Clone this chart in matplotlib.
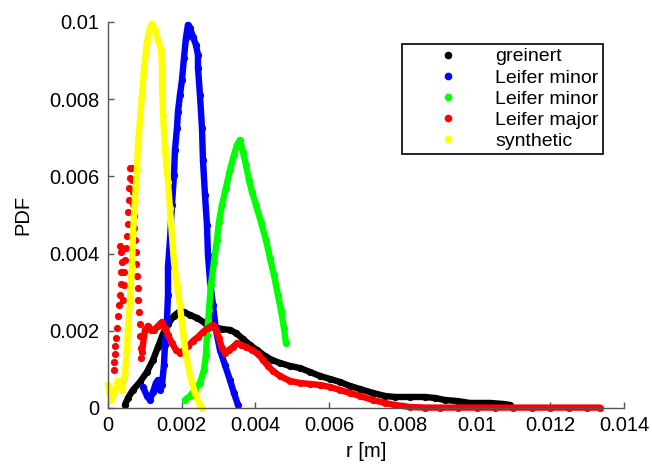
import matplotlib
matplotlib.use("Agg")
import matplotlib.pyplot as plt
from matplotlib.lines import Line2D
import numpy as np

plt.rcParams['font.family'] = ['Liberation Sans', 'DejaVu Sans']

# radius in mm, PDF in units of 1e-3
greinert_r = [0.461, 0.543, 0.678, 0.868, 1.058, 1.221, 1.357, 1.492, 1.628, 1.791,
              1.953, 2.062, 2.225, 2.415, 2.632, 2.849, 3.093, 3.310, 3.473, 3.663,
              3.853, 4.043, 4.260, 4.449, 4.666, 4.938, 5.209, 5.480, 5.751, 6.023,
              6.294, 6.565, 6.837, 7.189, 7.515, 7.786, 8.193, 8.600, 8.871, 9.143,
              9.468, 9.821, 10.364, 10.716, 10.906]
greinert_p = [0.078, 0.259, 0.466, 0.674, 0.933, 1.244, 1.581, 1.917, 2.176, 2.384,
              2.513, 2.487, 2.410, 2.332, 2.202, 2.099, 2.047, 2.021, 1.943, 1.788,
              1.632, 1.503, 1.347, 1.244, 1.166, 1.088, 1.036, 0.933, 0.829, 0.751,
              0.674, 0.570, 0.492, 0.389, 0.311, 0.285, 0.285, 0.285, 0.259, 0.207,
              0.181, 0.130, 0.130, 0.104, 0.078]

leifer_minor1_r = [0.950, 1.058, 1.139, 1.221, 1.302, 1.357, 1.411, 1.465, 1.519, 1.546,
                   1.601, 1.628, 1.628, 1.682, 1.736, 1.791, 1.818, 1.872, 1.899, 1.953,
                   2.008, 2.062, 2.116, 2.170, 2.225, 2.306, 2.387, 2.442, 2.442, 2.496,
                   2.550, 2.577, 2.632, 2.686, 2.713, 2.767, 2.849, 2.930, 3.039, 3.174,
                   3.310, 3.418, 3.527]
leifer_minor1_p = [0.544, 0.311, 0.207, 0.415, 0.648, 0.725, 0.466, 0.596, 1.114, 1.632,
                   2.280, 2.928, 3.653, 4.353, 5.260, 6.037, 6.685, 7.255, 7.669, 8.110,
                   8.498, 9.069, 9.587, 9.924, 9.846, 9.613, 9.405, 9.146, 8.809, 8.110,
                   7.255, 6.426, 5.519, 4.742, 3.964, 3.316, 2.669, 2.021, 1.503, 1.114,
                   0.725, 0.389, 0.078]

leifer_minor2_r = [2.089, 2.225, 2.360, 2.496, 2.604, 2.659, 2.686, 2.740, 2.794, 2.876,
                   2.957, 3.011, 3.093, 3.201, 3.310, 3.418, 3.500, 3.581, 3.663, 3.744,
                   3.825, 3.907, 4.015, 4.151, 4.286, 4.395, 4.503, 4.612, 4.693, 4.775,
                   4.829]
leifer_minor2_p = [0.207, 0.311, 0.466, 0.648, 0.985, 1.373, 1.891, 2.539, 3.187, 3.783,
                   4.353, 4.819, 5.260, 5.700, 6.166, 6.555, 6.814, 6.944, 6.633, 6.296,
                   5.907, 5.597, 5.260, 4.819, 4.353, 3.887, 3.446, 2.928, 2.539, 2.073,
                   1.684]

# noisy small-radius part of the major-axis distribution
leifer_major_noisy_r = [0.163, 0.163, 0.190, 0.190, 0.217, 0.244, 0.271, 0.298, 0.326, 0.353,
                        0.353, 0.380, 0.353, 0.326, 0.407, 0.434, 0.434, 0.461, 0.488, 0.515,
                        0.543, 0.543, 0.570, 0.570, 0.597, 0.597, 0.651, 0.651, 0.678, 0.678,
                        0.705, 0.705, 0.732, 0.760, 0.760, 0.787, 0.814, 0.814, 0.841, 0.868,
                        0.868, 0.895, 0.895]
leifer_major_noisy_p = [0.985, 1.192, 1.399, 1.606, 1.814, 2.073, 2.384, 2.669, 2.928, 3.213,
                        3.524, 3.783, 4.042, 4.197, 2.798, 3.187, 3.524, 3.835, 4.146, 4.456,
                        4.767, 5.078, 5.389, 5.700, 5.959, 6.218, 6.218, 5.907, 5.597, 5.286,
                        4.975, 4.664, 4.353, 4.042, 3.731, 3.420, 3.109, 2.798, 2.487, 2.176,
                        1.866, 1.555, 1.295]
leifer_major_r = [0.922, 1.004, 1.085, 1.167, 1.248, 1.357, 1.465, 1.546, 1.628, 1.736,
                  1.845, 1.953, 2.062, 2.170, 2.306, 2.442, 2.577, 2.713, 2.849, 2.930,
                  3.011, 3.093, 3.174, 3.283, 3.391, 3.500, 3.608, 3.744, 3.907, 4.070,
                  4.205, 4.341, 4.476, 4.666, 4.938, 5.209, 5.480, 5.751, 6.023, 6.294,
                  6.565, 6.837, 7.189, 7.515, 7.786, 8.193, 8.600, 9.000, 9.500, 10.000,
                  10.500, 11.000, 11.500, 12.000, 12.500, 13.000, 13.350]
leifer_major_p = [1.451, 2.021, 2.125, 2.021, 2.021, 2.125, 2.228, 2.073, 1.891, 1.684,
                  1.503, 1.425, 1.503, 1.606, 1.736, 1.840, 1.969, 2.073, 2.151, 2.021,
                  1.814, 1.555, 1.425, 1.503, 1.580, 1.684, 1.632, 1.580, 1.503, 1.399,
                  1.244, 1.088, 0.959, 0.829, 0.700, 0.648, 0.622, 0.596, 0.544, 0.466,
                  0.389, 0.311, 0.207, 0.130, 0.078, 0.026, 0.010, 0.010, 0.010, 0.010,
                  0.010, 0.010, 0.010, 0.010, 0.010, 0.010, 0.010]

synthetic_r = [0.000, 0.081, 0.163, 0.271, 0.380, 0.461, 0.515, 0.543, 0.597, 0.651,
               0.678, 0.732, 0.787, 0.814, 0.868, 0.922, 0.977, 1.058, 1.139, 1.194,
               1.275, 1.357, 1.438, 1.465, 1.465, 1.492, 1.546, 1.628, 1.682, 1.736,
               1.791, 1.872, 1.953, 2.035, 2.116, 2.225, 2.360, 2.496, 2.550]
synthetic_p = [0.596, 0.207, 0.389, 0.700, 0.466, 0.907, 1.503, 2.099, 2.798, 3.653,
               4.534, 5.389, 6.166, 6.814, 7.462, 8.110, 8.758, 9.483, 9.846, 9.950,
               9.794, 9.535, 9.276, 8.887, 8.447, 7.592, 6.737, 5.856, 5.182, 4.482,
               3.783, 3.187, 2.669, 1.943, 1.373, 0.855, 0.389, 0.078, 0.000]

labels = ['greinert', 'Leifer minor', 'Leifer minor', 'Leifer major', 'synthetic']
colors = ['#000000', '#0000ff', '#00ff00', '#ff0000', '#ffff00']

MM = 1e-3    # mm -> m
PDF = 1e-3   # PDF axis unit

fig = plt.figure(figsize=(6.52, 4.66), dpi=100)
ax = fig.add_axes([0.1656, 0.1245, 0.7914, 0.8283])

style = dict(marker='o', ms=5.2, mew=0, lw=4.6, solid_capstyle='round',
             solid_joinstyle='round', clip_on=False)

def draw(r, p, color, line=True):
    r = np.asarray(r) * MM
    p = np.asarray(p) * PDF
    ax.plot(r, p, ls='-' if line else 'none', color=color, **style)

draw(greinert_r, greinert_p, colors[0])
draw(leifer_minor1_r, leifer_minor1_p, colors[1])
draw(leifer_minor2_r, leifer_minor2_p, colors[2])
draw(leifer_major_noisy_r, leifer_major_noisy_p, colors[3], line=False)
draw(leifer_major_r, leifer_major_p, colors[3])
draw(synthetic_r, synthetic_p, colors[4])

ax.set_xlim(0, 0.014)
ax.set_ylim(0, 0.01)
ax.set_xticks(np.arange(0, 0.0141, 0.002))
ax.set_yticks(np.arange(0, 0.0101, 0.002))
ax.set_xticklabels(['0', '0.002', '0.004', '0.006', '0.008', '0.01', '0.012', '0.014'])
ax.set_yticklabels(['0', '0.002', '0.004', '0.006', '0.008', '0.01'])

for side in ('top', 'right'):
    ax.spines[side].set_visible(False)
for side in ('left', 'bottom'):
    ax.spines[side].set_color('#555555')
    ax.spines[side].set_linewidth(1.0)
ax.tick_params(direction='in', length=4, width=1, color='#555555',
               labelsize=14.5, pad=6, labelcolor='black')

ax.set_xlabel('r [m]', fontsize=14.5, labelpad=5)
ax.set_ylabel('PDF', fontsize=14.5, labelpad=12)

handles = [Line2D([], [], ls='none', marker='o', ms=5.5, mew=0, color=c) for c in colors]
leg = ax.legend(handles, labels, loc='upper right', bbox_to_anchor=(0.959, 0.943),
                fontsize=14, frameon=True, fancybox=False, framealpha=1,
                edgecolor='black', borderpad=0.2, labelspacing=0.18,
                handlelength=4.3, handletextpad=0.3, borderaxespad=0)
leg.get_frame().set_linewidth(1.2)

fig.savefig('out.png', dpi=100)
